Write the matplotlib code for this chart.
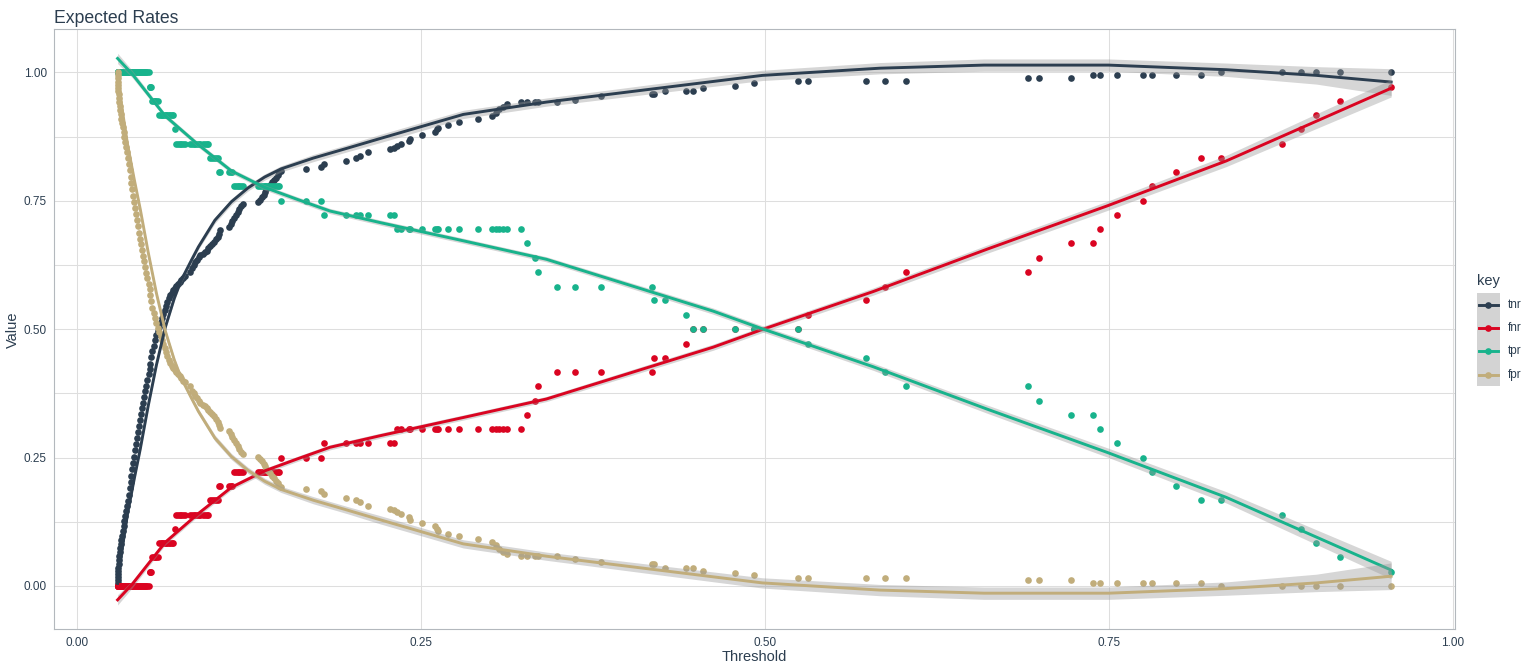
import matplotlib
matplotlib.use("Agg")
import matplotlib.pyplot as plt
from matplotlib.lines import Line2D
from matplotlib.patches import Rectangle

plt.rcParams['font.family'] = ['Liberation Sans', 'DejaVu Sans']

# ---------------- data ----------------
keys = ["tnr", "fnr", "tpr", "fpr"]
key_colors = ["#2c3e50", "#da0421", "#18b38c", "#c1ad7b"]

threshold = [
    0.0298, 0.0299, 0.0300, 0.0301, 0.0302, 0.0303, 0.0304, 0.0306, 0.0308, 0.0311,
    0.0314, 0.0317, 0.0320, 0.0324, 0.0329, 0.0335, 0.0341, 0.0347, 0.0353, 0.0359,
    0.0365, 0.0371, 0.0378, 0.0385, 0.0392, 0.0399, 0.0406, 0.0413, 0.0420, 0.0427,
    0.0434, 0.0441, 0.0448, 0.0455, 0.0462, 0.0469, 0.0476, 0.0483, 0.0491, 0.0499,
    0.0507, 0.0515, 0.0523, 0.0530, 0.0537, 0.0544, 0.0551, 0.0560, 0.0570, 0.0580,
    0.0590, 0.0600, 0.0610, 0.0620, 0.0630, 0.0640, 0.0650, 0.0660, 0.0670, 0.0680,
    0.0690, 0.0700, 0.0713, 0.0725, 0.0737, 0.0749, 0.0761, 0.0773, 0.0785, 0.0825,
    0.0836, 0.0850, 0.0863, 0.0875, 0.0888, 0.0900, 0.0915, 0.0930, 0.0945, 0.0958,
    0.0970, 0.0985, 0.1000, 0.1015, 0.1028, 0.1036, 0.1042, 0.1106, 0.1120, 0.1130,
    0.1142, 0.1155, 0.1170, 0.1183, 0.1197, 0.1210, 0.1318, 0.1330, 0.1345, 0.1360,
    0.1370, 0.1378, 0.1390, 0.1406, 0.1422, 0.1438, 0.1450, 0.1462, 0.1474, 0.1486,
    0.1667, 0.1775, 0.1795, 0.1957, 0.2034, 0.2058, 0.2117, 0.2280, 0.2305, 0.2325,
    0.2361, 0.2414, 0.2424, 0.2507, 0.2603, 0.2618, 0.2628, 0.2699, 0.2779, 0.2916,
    0.3021, 0.3047, 0.3071, 0.3096, 0.3126, 0.3232, 0.3272, 0.3333, 0.3353, 0.3494,
    0.3625, 0.3812, 0.4178, 0.4194, 0.4277, 0.4430, 0.4480, 0.4551, 0.4782, 0.4923,
    0.5245, 0.5316, 0.5738, 0.5874, 0.6030, 0.6916, 0.6996, 0.7228, 0.7389, 0.7439,
    0.7560, 0.7752, 0.7812, 0.7993, 0.8174, 0.8315, 0.8763, 0.8899, 0.9010, 0.9181,
    0.9553,
]

tnr = [
    0.000, 0.006, 0.012, 0.018, 0.024, 0.030, 0.036, 0.042, 0.050, 0.058,
    0.066, 0.074, 0.082, 0.090, 0.098, 0.107, 0.116, 0.126, 0.136, 0.146,
    0.156, 0.166, 0.178, 0.190, 0.203, 0.215, 0.228, 0.240, 0.252, 0.264,
    0.276, 0.288, 0.300, 0.312, 0.324, 0.335, 0.346, 0.357, 0.368, 0.379,
    0.390, 0.401, 0.412, 0.422, 0.433, 0.445, 0.458, 0.468, 0.478, 0.488,
    0.497, 0.505, 0.513, 0.521, 0.529, 0.537, 0.545, 0.553, 0.561, 0.566,
    0.571, 0.576, 0.580, 0.584, 0.588, 0.592, 0.596, 0.600, 0.603, 0.611,
    0.620, 0.625, 0.630, 0.635, 0.640, 0.644, 0.647, 0.650, 0.653, 0.658,
    0.662, 0.666, 0.670, 0.675, 0.680, 0.686, 0.693, 0.698, 0.705, 0.710,
    0.716, 0.722, 0.728, 0.734, 0.740, 0.744, 0.748, 0.752, 0.757, 0.762,
    0.767, 0.772, 0.777, 0.781, 0.786, 0.790, 0.795, 0.800, 0.806, 0.808,
    0.811, 0.816, 0.821, 0.828, 0.833, 0.837, 0.844, 0.850, 0.853, 0.856,
    0.860, 0.866, 0.871, 0.877, 0.883, 0.889, 0.892, 0.898, 0.903, 0.909,
    0.915, 0.920, 0.928, 0.933, 0.938, 0.942, 0.942, 0.942, 0.942, 0.942,
    0.947, 0.953, 0.958, 0.958, 0.964, 0.964, 0.964, 0.970, 0.974, 0.979,
    0.984, 0.984, 0.984, 0.984, 0.984, 0.989, 0.989, 0.989, 0.994, 0.994,
    0.994, 0.994, 0.994, 0.994, 0.994, 1.000, 1.000, 1.000, 1.000, 1.000,
    1.000,
]

fpr = [
    1.000, 0.994, 0.988, 0.982, 0.976, 0.970, 0.964, 0.958, 0.950, 0.942,
    0.934, 0.926, 0.918, 0.910, 0.902, 0.893, 0.884, 0.874, 0.864, 0.854,
    0.844, 0.834, 0.822, 0.810, 0.797, 0.785, 0.772, 0.760, 0.748, 0.736,
    0.724, 0.712, 0.700, 0.688, 0.676, 0.665, 0.654, 0.643, 0.632, 0.621,
    0.610, 0.599, 0.588, 0.578, 0.567, 0.555, 0.542, 0.532, 0.522, 0.512,
    0.503, 0.495, 0.487, 0.479, 0.471, 0.463, 0.455, 0.447, 0.439, 0.434,
    0.429, 0.424, 0.420, 0.416, 0.412, 0.408, 0.404, 0.400, 0.397, 0.389,
    0.380, 0.375, 0.370, 0.365, 0.360, 0.356, 0.353, 0.350, 0.347, 0.342,
    0.338, 0.334, 0.330, 0.325, 0.320, 0.314, 0.307, 0.302, 0.295, 0.290,
    0.284, 0.278, 0.272, 0.266, 0.260, 0.256, 0.252, 0.248, 0.243, 0.238,
    0.233, 0.228, 0.223, 0.219, 0.214, 0.210, 0.205, 0.200, 0.194, 0.192,
    0.189, 0.184, 0.179, 0.172, 0.167, 0.163, 0.156, 0.150, 0.147, 0.144,
    0.140, 0.134, 0.129, 0.123, 0.117, 0.111, 0.108, 0.102, 0.097, 0.091,
    0.085, 0.080, 0.072, 0.067, 0.062, 0.058, 0.058, 0.058, 0.058, 0.058,
    0.053, 0.047, 0.042, 0.042, 0.036, 0.036, 0.036, 0.030, 0.026, 0.021,
    0.016, 0.016, 0.016, 0.016, 0.016, 0.011, 0.011, 0.011, 0.006, 0.006,
    0.006, 0.006, 0.006, 0.006, 0.006, 0.000, 0.000, 0.000, 0.000, 0.000,
    0.000,
]

tpr = ([1.000] * 43 + [0.972] * 3 + [0.944] * 5 + [0.917] * 11 + [0.889]
       + [0.861] * 17 + [0.833] * 5 + [0.806] * 5 + [0.778] * 19 + [0.750] * 3
       + [0.722] * 7 + [0.694] * 17 + [0.667, 0.639] + [0.611] + [0.583] * 4
       + [0.556] * 2 + [0.528] + [0.500] * 5 + [0.472, 0.444, 0.417]
       + [0.389] * 2 + [0.361] + [0.333] * 2 + [0.306, 0.278, 0.250, 0.222, 0.194]
       + [0.167] * 2 + [0.139, 0.111, 0.083, 0.056, 0.028])

fnr = ([0.000] * 43 + [0.028] * 3 + [0.056] * 5 + [0.083] * 11 + [0.111]
       + [0.139] * 17 + [0.167] * 5 + [0.194] * 5 + [0.222] * 19 + [0.250] * 3
       + [0.278] * 7 + [0.306] * 17 + [0.333, 0.361] + [0.389] + [0.417] * 4
       + [0.444] * 2 + [0.472] + [0.500] * 5 + [0.528, 0.556, 0.583]
       + [0.611] * 2 + [0.639] + [0.667] * 2 + [0.694, 0.722, 0.750, 0.778, 0.806]
       + [0.833] * 2 + [0.861, 0.889, 0.917, 0.944, 0.972])

# smoothed (loess) curves, with ribbon half-widths
neg_fit_t = [0.0298, 0.0330, 0.0370, 0.0420, 0.0463, 0.0520, 0.0580, 0.0644, 0.0710, 0.0760,
             0.0836, 0.0885, 0.1005, 0.1125, 0.1246, 0.1366, 0.1486, 0.1720, 0.1964, 0.2205,
             0.2810, 0.3414, 0.4138, 0.4984, 0.5839, 0.6594, 0.7500, 0.8355, 0.9010, 0.9553]
tnr_fit = [0.005, 0.070, 0.140, 0.210, 0.267, 0.350, 0.430, 0.503, 0.560, 0.595,
           0.635, 0.660, 0.712, 0.748, 0.775, 0.796, 0.812, 0.833, 0.852, 0.871,
           0.918, 0.942, 0.966, 0.994, 1.008, 1.014, 1.014, 1.005, 0.994, 0.981]
fpr_fit = [0.995, 0.930, 0.860, 0.790, 0.733, 0.650, 0.570, 0.497, 0.440, 0.405,
           0.365, 0.340, 0.288, 0.252, 0.225, 0.204, 0.188, 0.167, 0.148, 0.129,
           0.082, 0.058, 0.034, 0.006, -0.008, -0.014, -0.014, -0.005, 0.006, 0.019]
neg_se = [0.006, 0.005, 0.005, 0.005, 0.005, 0.005, 0.005, 0.005, 0.005, 0.005,
          0.005, 0.005, 0.006, 0.006, 0.006, 0.006, 0.006, 0.007, 0.007, 0.008,
          0.008, 0.008, 0.009, 0.010, 0.011, 0.012, 0.012, 0.013, 0.017, 0.026]

pos_fit_t = [0.0298, 0.0403, 0.0644, 0.0880, 0.1125, 0.1366, 0.1600, 0.1841, 0.2205, 0.2810,
             0.3414, 0.4627, 0.4990, 0.5787, 0.6620, 0.7490, 0.8355, 0.9553]
tpr_fit = [1.027, 0.997, 0.915, 0.860, 0.808, 0.776, 0.753, 0.730, 0.7075, 0.672,
           0.636, 0.535, 0.500, 0.427, 0.344, 0.260, 0.1725, 0.031]
fnr_fit = [-0.027, 0.003, 0.085, 0.140, 0.192, 0.224, 0.247, 0.270, 0.2925, 0.328,
           0.364, 0.465, 0.500, 0.573, 0.656, 0.740, 0.8275, 0.969]
pos_se = [0.010, 0.007, 0.005, 0.005, 0.005, 0.005, 0.005, 0.005, 0.005, 0.005,
          0.005, 0.006, 0.006, 0.007, 0.008, 0.009, 0.011, 0.017]

x_ticks = [0.00, 0.25, 0.50, 0.75, 1.00]
x_tick_labels = ["0.00", "0.25", "0.50", "0.75", "1.00"]
y_ticks = [0.00, 0.25, 0.50, 0.75, 1.00]
y_tick_labels = ["0.00", "0.25", "0.50", "0.75", "1.00"]
y_minor = [0.125, 0.375, 0.625, 0.875]

# ---------------- figure ----------------
W, H = 1536, 672
TXT = "#2c3e50"
fig = plt.figure(figsize=(W / 100, H / 100), dpi=100)
fig.patch.set_facecolor("white")


def fx(px):
    return px / W


def fy(py):
    return 1 - py / H


pl, pr, pt, pb = 54.3, 1455.0, 29.3, 629.3
ax = fig.add_axes([fx(pl), fy(pb), (pr - pl) / W, (pb - pt) / H])
ax.set_xlim(-0.0162, 1.0017)
ax.set_ylim(-0.0843, 1.0837)

ax.set_xticks(x_ticks)
ax.set_xticklabels(x_tick_labels)
ax.set_yticks(y_ticks)
ax.set_yticklabels(y_tick_labels)
ax.set_yticks(y_minor, minor=True)
ax.set_axisbelow(True)
ax.grid(which="major", color="#dedede", lw=0.75)
ax.grid(which="minor", axis="y", color="#dedede", lw=0.75)
ax.tick_params(which="both", length=0, pad=5.3, labelsize=8.45, labelcolor=TXT)
for s in ax.spines.values():
    s.set_color("#b3b8bd")
    s.set_linewidth(0.8)

point_series = {"tnr": tnr, "fnr": fnr, "tpr": tpr, "fpr": fpr}
for k, c in zip(keys, key_colors):
    ax.plot(threshold, point_series[k], linestyle="none", marker="o", ms=4.8,
            mew=0, color=c, zorder=2)

fits = {
    "tnr": (neg_fit_t, tnr_fit, neg_se),
    "fnr": (pos_fit_t, fnr_fit, pos_se),
    "tpr": (pos_fit_t, tpr_fit, pos_se),
    "fpr": (neg_fit_t, fpr_fit, neg_se),
}
for k, c in zip(keys, key_colors):
    ft, fv, se = fits[k]
    lo = [v - e for v, e in zip(fv, se)]
    hi = [v + e for v, e in zip(fv, se)]
    ax.fill_between(ft, lo, hi, color="#999999", alpha=0.4, lw=0, zorder=3)
    ax.plot(ft, fv, color=c, lw=2.1, zorder=3, solid_joinstyle="round")

# titles
fig.text(fx(pl), fy(22.7), "Expected Rates", fontsize=12.7, color=TXT, va="baseline", ha="left")
fig.text(fx((pl + pr) / 2), fy(657), "Threshold", fontsize=10.56, color=TXT, ha="center", va="center")
fig.text(fx(13), fy((pt + pb) / 2), "Value", fontsize=10.56, color=TXT, ha="center", va="center",
         rotation=90)

# legend
fig.text(fx(1477), fy(285.5), "key", fontsize=10.56, color=TXT, va="baseline", ha="left")
fig.patches.append(Rectangle((fx(1476.7), fy(386)), (1500 - 1476.7) / W, (386 - 293.3) / H,
                             transform=fig.transFigure, facecolor="#d3d3d3", edgecolor="none"))
key_y = [305.0, 328.2, 351.4, 374.6]
for k, c, yc in zip(keys, key_colors, key_y):
    fig.add_artist(Line2D([fx(1479), fx(1498)], [fy(yc), fy(yc)], color=c, lw=2.1,
                          transform=fig.transFigure))
    fig.add_artist(Line2D([fx(1488.4)], [fy(yc)], marker="o", ms=4.8, mew=0, color=c,
                          linestyle="none", transform=fig.transFigure))
    fig.text(fx(1507.7), fy(yc), k, fontsize=8.45, color=TXT, va="center", ha="left")

fig.savefig("out.png", dpi=100, facecolor="white")
